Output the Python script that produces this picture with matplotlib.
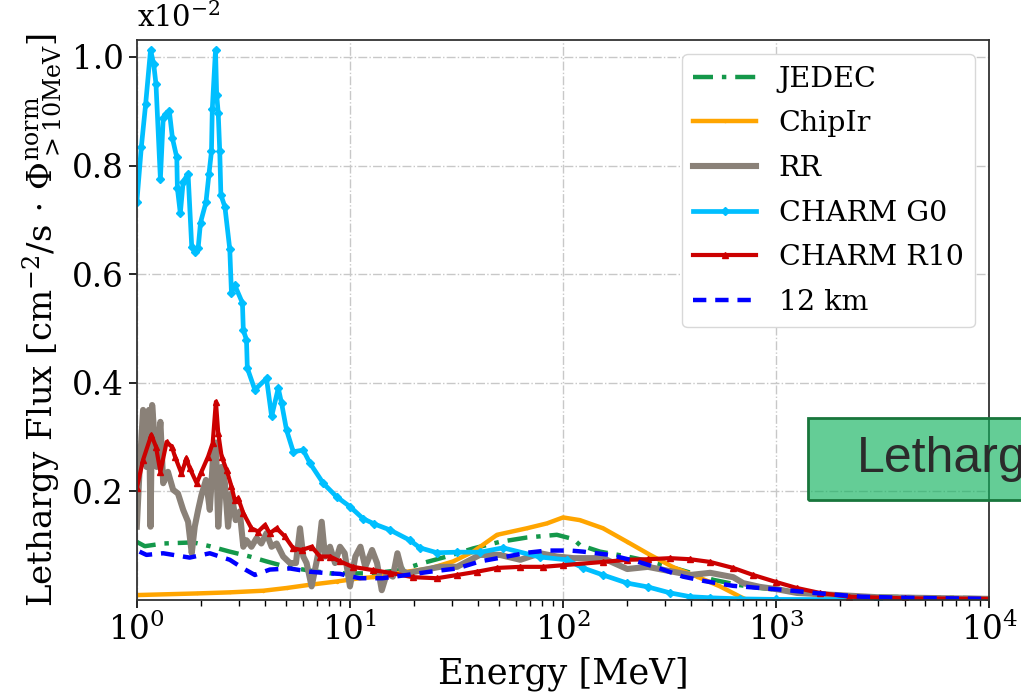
import matplotlib
matplotlib.use('Agg')
import matplotlib.pyplot as plt
from matplotlib.patches import Rectangle
import numpy as np

plt.rcParams['font.family'] = 'DejaVu Serif'
plt.rcParams['mathtext.fontset'] = 'dejavuserif'

# ---- data (flux in units of 1e-2) ----
e_jedec = [1.0, 1.09, 1.33, 1.84, 2.2, 2.73, 3.39, 4.06, 5.04, 6.26, 8.06, 10, 12.8, 17.2, 22, 28.5,
           37.9, 50.5, 67.6, 93.5, 112, 120, 149, 200, 256, 318, 406, 508, 658, 840, 1080, 1500, 3000, 10000]
f_jedec = [0.107, 0.099, 0.104, 0.106, 0.099, 0.089, 0.080, 0.071, 0.061, 0.055, 0.049, 0.049, 0.049, 0.055,
           0.068, 0.080, 0.095, 0.107, 0.115, 0.120, 0.112, 0.101, 0.089, 0.080, 0.071, 0.061, 0.049, 0.037,
           0.028, 0.022, 0.018, 0.011, 0.006, 0.003]

e_chipir = [1.0, 1.91, 2.73, 3.92, 5.04, 6.49, 8.66, 11.1, 12.8, 18.5, 23.7, 30.5, 37.9, 49, 67.6, 84,
            100, 120, 154, 200, 256, 330, 425, 545, 677, 730]
f_chipir = [0.009, 0.012, 0.014, 0.017, 0.022, 0.028, 0.034, 0.040, 0.042, 0.052, 0.058, 0.071, 0.089, 0.120,
            0.132, 0.141, 0.152, 0.147, 0.132, 0.107, 0.083, 0.060, 0.043, 0.025, 0.006, 0.0]

e_rr = [1.0, 1.03, 1.07, 1.11, 1.14, 1.16, 1.18, 1.24, 1.29, 1.33, 1.40, 1.48, 1.56, 1.65, 1.74, 1.81, 1.87,
        1.94, 2.01, 2.11, 2.20, 2.28, 2.35, 2.41, 2.50, 2.59, 2.68, 2.78, 2.91, 3.04, 3.16, 3.27, 3.45, 3.65,
        3.84, 4.06, 4.29, 4.53, 4.86, 5.23, 5.58, 5.83, 6.04, 6.26, 6.61, 6.85, 7.10, 7.37, 7.64, 8.06, 8.51,
        8.98, 9.45, 10.0, 10.6, 11.2, 11.8, 12.7, 13.4, 14.1, 14.9, 15.9, 16.7, 17.5, 18.5, 22.0, 26.4, 31.8,
        40.7, 50.5, 63, 78, 93.5, 112, 154, 200, 250, 318, 395, 490, 628, 700, 840, 1000, 1250, 3000, 10000]
f_rr = [0.135, 0.239, 0.350, 0.245, 0.350, 0.135, 0.359, 0.245, 0.328, 0.215, 0.236, 0.203, 0.196, 0.166,
        0.144, 0.086, 0.135, 0.166, 0.193, 0.221, 0.166, 0.264, 0.290, 0.135, 0.245, 0.215, 0.135, 0.196,
        0.147, 0.163, 0.098, 0.110, 0.098, 0.114, 0.104, 0.123, 0.098, 0.104, 0.080, 0.068, 0.068, 0.132,
        0.080, 0.068, 0.025, 0.055, 0.086, 0.144, 0.080, 0.098, 0.068, 0.098, 0.086, 0.025, 0.080, 0.098,
        0.061, 0.092, 0.068, 0.018, 0.049, 0.043, 0.086, 0.055, 0.049, 0.055, 0.061, 0.061, 0.083, 0.083,
        0.074, 0.086, 0.080, 0.077, 0.077, 0.057, 0.061, 0.053, 0.046, 0.050, 0.042, 0.031, 0.024, 0.020,
        0.013, 0.005, 0.002]

e_g0 = [1.00, 1.05, 1.10, 1.16, 1.20, 1.23, 1.29, 1.33, 1.37, 1.42, 1.47, 1.54, 1.55, 1.60, 1.65, 1.74, 1.81,
        1.88, 1.94, 1.99, 2.11, 2.18, 2.24, 2.26, 2.34, 2.37, 2.41, 2.45, 2.48, 2.59, 2.73, 2.78, 2.88, 3.13,
        3.16, 3.27, 3.30, 3.58, 4.06, 4.29, 4.61, 4.78, 5.04, 5.42, 6.04, 6.49, 7.49, 8.66, 10.0, 11.5, 13.0,
        15.4, 19.1, 21.3, 25.6, 31.8, 40.7, 52.3, 78, 104, 124, 154, 200, 250, 318, 395, 490, 677, 1000,
        3000, 10000]
f_g0 = [0.732, 0.834, 0.913, 1.013, 0.987, 0.950, 0.775, 0.887, 0.895, 0.901, 0.850, 0.815, 0.758, 0.712,
        0.770, 0.785, 0.650, 0.641, 0.648, 0.695, 0.732, 0.784, 0.826, 0.904, 1.013, 0.930, 0.897, 0.826,
        0.746, 0.724, 0.646, 0.565, 0.580, 0.547, 0.497, 0.479, 0.427, 0.387, 0.408, 0.338, 0.390, 0.362,
        0.313, 0.273, 0.276, 0.252, 0.215, 0.190, 0.172, 0.150, 0.140, 0.129, 0.110, 0.096, 0.087, 0.088,
        0.088, 0.096, 0.079, 0.074, 0.059, 0.046, 0.031, 0.024, 0.013, 0.006, 0.004, 0.002, 0.001,
        0.0005, 0.0002]

e_r10 = [1.00, 1.07, 1.17, 1.23, 1.29, 1.38, 1.46, 1.51, 1.62, 1.71, 1.77, 1.91, 2.01, 2.16, 2.27, 2.35,
         2.41, 2.50, 2.64, 2.78, 2.88, 2.99, 3.16, 3.45, 3.71, 3.99, 4.21, 4.53, 4.95, 5.42, 5.93, 6.61,
         7.23, 8.06, 8.98, 10.3, 12.8, 15.4, 19.7, 25.6, 31.8, 39.4, 49, 63, 80.5, 100, 154, 200, 250, 318,
         395, 490, 628, 780, 1000, 1250, 1600, 2200, 4000, 10000]
f_r10 = [0.206, 0.258, 0.304, 0.282, 0.236, 0.291, 0.282, 0.264, 0.233, 0.261, 0.243, 0.215, 0.236, 0.264,
         0.289, 0.365, 0.307, 0.264, 0.239, 0.209, 0.184, 0.187, 0.160, 0.132, 0.126, 0.138, 0.123, 0.132,
         0.117, 0.095, 0.092, 0.098, 0.080, 0.080, 0.071, 0.061, 0.055, 0.050, 0.042, 0.040, 0.046, 0.052,
         0.059, 0.061, 0.061, 0.064, 0.070, 0.074, 0.075, 0.077, 0.075, 0.070, 0.059, 0.046, 0.033, 0.022,
         0.013, 0.006, 0.003, 0.002]

e_12km = [1.03, 1.11, 1.33, 1.77, 2.20, 2.73, 3.16, 3.58, 4.21, 5.23, 6.49, 8.06, 8.98, 11.1, 14.2, 18.5,
          23.7, 31.8, 40.7, 54.6, 67.6, 84, 108, 124, 166, 222, 285, 365, 472, 628, 840, 1130, 1500, 2500,
          4000, 10000]
f_12km = [0.089, 0.083, 0.086, 0.078, 0.086, 0.074, 0.058, 0.046, 0.056, 0.058, 0.052, 0.049, 0.048, 0.040,
          0.040, 0.046, 0.052, 0.058, 0.071, 0.080, 0.087, 0.091, 0.091, 0.089, 0.083, 0.071, 0.058, 0.043,
          0.034, 0.026, 0.022, 0.018, 0.013, 0.006, 0.004, 0.002]

fig = plt.figure(figsize=(10.21, 6.92), dpi=100)
ax = fig.add_axes([0.134, 0.133, 0.835, 0.809])

ax.plot(e_jedec, f_jedec, color='#14984A', ls='-.', lw=3.2, label='JEDEC', dashes=(4.5, 2.0, 1, 2.0))
ax.plot(e_chipir, f_chipir, color='#FFA500', lw=3.2, marker='.', ms=3, label='ChipIr')
ax.plot(e_rr, f_rr, color='#8A8178', lw=4.4, label='RR')
ax.plot(e_g0, f_g0, color='#00BFFF', lw=3.4, marker='D', ms=4, label='CHARM G0')
ax.plot(e_r10, f_r10, color='#CC0000', lw=3.0, marker='^', ms=4, label='CHARM R10')
ax.plot(e_12km, f_12km, color='#0000FF', ls='--', lw=3.2, label='12 km', dashes=(3, 2))

ax.set_xscale('log')
ax.set_xlim(1, 1e4)
ax.set_ylim(0.0, 1.031)
ax.set_yticks([0.2, 0.4, 0.6, 0.8, 1.0])
ax.set_yticklabels(['0.2', '0.4', '0.6', '0.8', '1.0'])
ax.grid(True, which='major', ls='-.', color='#c8c8c8', lw=1.0)
ax.tick_params(axis='both', which='major', labelsize=23.5, length=6, width=1.2)
ax.tick_params(axis='x', which='minor', length=4, width=1.0)
for s in ax.spines.values():
    s.set_color('#333333')
    s.set_linewidth(1.3)

ax.set_xlabel('Energy [MeV]', fontsize=25.5, labelpad=7)
ax.set_ylabel(r'Lethargy Flux [cm$^{-2}$/s$\,\cdot\,\Phi^{\rm norm}_{>10\rm MeV}$]', fontsize=24.5, labelpad=5)
ax.text(0.0, 1.012, r'x10$^{-2}$', transform=ax.transAxes, fontsize=21, ha='left', va='bottom')

leg = ax.legend(loc='upper right', fontsize=20.5, handlelength=2.2, labelspacing=0.62,
                borderaxespad=0.5, framealpha=1.0, edgecolor='#d8d8d8')

# overlay box from the slide
fig.patches.append(Rectangle((808 / 1021, 192 / 692), 0.25, 82 / 692, transform=fig.transFigure,
                             facecolor='#11B25E', alpha=0.65, edgecolor='none', zorder=5))
fig.patches.append(Rectangle((808 / 1021, 192 / 692), 0.25, 82 / 692, transform=fig.transFigure,
                             facecolor='none', edgecolor='#18763C', lw=2.0, zorder=6))
fig.text(857 / 1021, 233 / 692, 'Letharg', fontsize=36, family='Liberation Sans',
         color='#2b2b2b', ha='left', va='center', zorder=7)

fig.savefig('out.png', dpi=100)
